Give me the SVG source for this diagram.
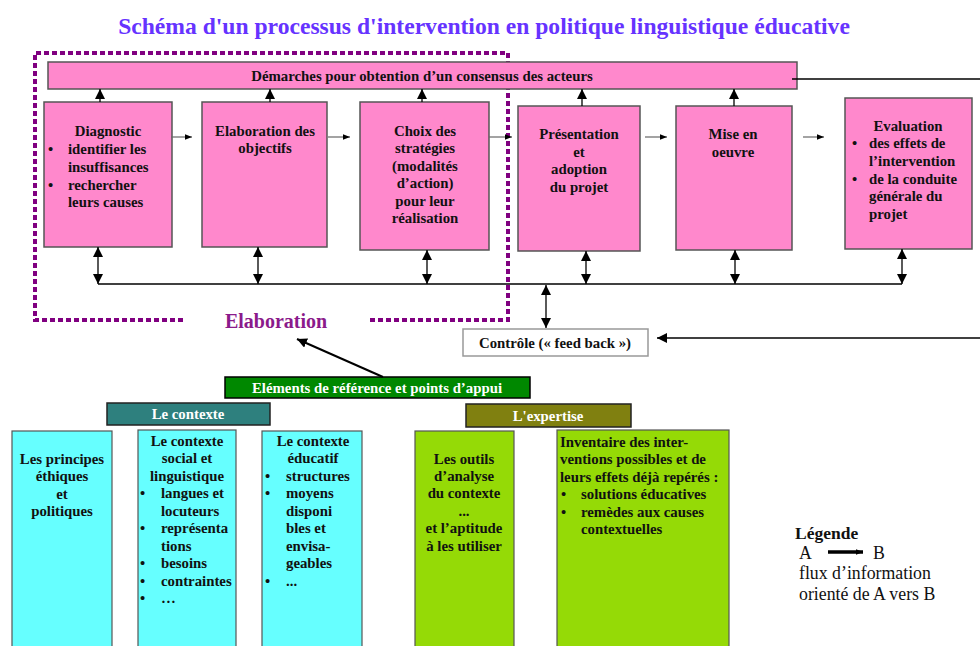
<svg xmlns="http://www.w3.org/2000/svg" width="980" height="646" viewBox="0 0 980 646" font-family="'Liberation Serif', 'DejaVu Serif', 'Times New Roman', serif">
<defs>
<style>
text{font-family:'Liberation Serif','DejaVu Serif','Times New Roman',serif;font-weight:bold;font-size:14.8px;fill:#111}
.c{text-anchor:middle}
.pink{fill:#ff88cc;stroke:#555;stroke-width:1.5}
.cyan{fill:#66ffff;stroke:#555;stroke-width:1.2}
.lime{fill:#95da06;stroke:#555;stroke-width:1.2}
.ln{stroke:#000;stroke-width:1.3;fill:none}
.thin{stroke:#666;stroke-width:1.2;fill:none}
.wt{fill:#fff}
.leg{font-weight:normal;font-size:17.8px}
</style>
<marker id="ah" viewBox="0 0 10 10" refX="10" refY="5" markerWidth="10" markerHeight="10" markerUnits="userSpaceOnUse" orient="auto-start-reverse"><path d="M0,0 L10,5 L0,10 Z" fill="#000"/></marker>
<marker id="sm" viewBox="0 0 10 10" refX="10" refY="5" markerWidth="7" markerHeight="7" markerUnits="userSpaceOnUse" orient="auto"><path d="M0,1 L10,5 L0,9 Z" fill="#000"/></marker>
</defs>
<rect width="980" height="646" fill="#fff"/>
<text x="484" y="34" class="c" style="font-size:23.6px;fill:#6633ff">Schéma d'un processus d'intervention en politique linguistique éducative</text>

<g id="elaboration-zone">
<path d="M183,320 H35 V53 H508 V320 H367" fill="none" stroke="#800080" stroke-width="4" stroke-dasharray="5 3"/>
<text x="276" y="328" class="c" style="font-size:20px;fill:#8b1a8b">Elaboration</text>
</g>

<g id="banner">
<rect x="48" y="62" width="749" height="27" class="pink"/>
<text x="422" y="81" class="c">Démarches pour obtention d’un consensus des acteurs</text>
</g>

<g id="diagnostic">
<rect x="44" y="102" width="128" height="145" class="pink"/>
<text x="108" y="136" class="c">Diagnostic</text>
<text x="48" y="154">•</text><text x="68" y="154">identifier les</text>
<text x="68" y="172">insuffisances</text>
<text x="48" y="190">•</text><text x="68" y="190">rechercher</text>
<text x="68" y="207">leurs causes</text>
</g>
<g id="objectifs">
<rect x="202" y="102" width="125" height="145" class="pink"/>
<text x="265" y="136" class="c">Elaboration des</text>
<text x="265" y="153" class="c">objectifs</text>
</g>
<g id="strategies">
<rect x="360" y="102" width="129" height="148" class="pink"/>
<text x="425" y="136" class="c">Choix des</text>
<text x="425" y="153" class="c">stratégies</text>
<text x="425" y="171" class="c">(modalités</text>
<text x="425" y="188" class="c">d’action)</text>
<text x="425" y="206" class="c">pour leur</text>
<text x="425" y="223" class="c">réalisation</text>
</g>
<g id="presentation">
<rect x="518" y="106" width="122" height="145" class="pink"/>
<text x="579" y="139" class="c">Présentation</text>
<text x="579" y="157" class="c">et</text>
<text x="579" y="174" class="c">adoption</text>
<text x="579" y="192" class="c">du projet</text>
</g>
<g id="mise-en-oeuvre">
<rect x="676" y="106" width="116" height="144" class="pink"/>
<text x="733" y="139" class="c">Mise en</text>
<text x="733" y="157" class="c">oeuvre</text>
</g>
<g id="evaluation">
<rect x="845" y="98" width="127" height="151" class="pink"/>
<text x="908" y="131" class="c">Evaluation</text>
<text x="852" y="148">•</text><text x="869" y="148">des effets de</text>
<text x="869" y="166">l’intervention</text>
<text x="852" y="184">•</text><text x="869" y="184">de la conduite</text>
<text x="869" y="201">générale du</text>
<text x="869" y="219">projet</text>
</g>

<g id="controle">
<rect x="463" y="329" width="185" height="27" fill="#fff" stroke="#999" stroke-width="1.5"/>
<text x="555" y="348" class="c">Contrôle (« feed back »)</text>
</g>

<g id="elements">
<rect x="225" y="377" width="305" height="21" fill="#008800" stroke="#000" stroke-width="1.5"/>
<text x="377" y="393" class="c wt">Eléments de référence et points d’appui</text>
</g>
<g id="le-contexte">
<rect x="107" y="403" width="163" height="22" fill="#2e807e" stroke="#222" stroke-width="1.5"/>
<text x="188" y="419" class="c wt">Le contexte</text>
</g>
<g id="expertise">
<rect x="466" y="404" width="165" height="23" fill="#808010" stroke="#222" stroke-width="1.5"/>
<text x="548" y="421" class="c wt">L'expertise</text>
</g>

<g id="principes">
<rect x="12" y="431" width="100" height="220" class="cyan"/>
<text x="62" y="464" class="c">Les principes</text>
<text x="62" y="481" class="c">éthiques</text>
<text x="62" y="499" class="c">et</text>
<text x="62" y="516" class="c">politiques</text>
</g>
<g id="contexte-social">
<rect x="138" y="430" width="98" height="221" class="cyan"/>
<text x="187" y="446" class="c">Le contexte</text>
<text x="187" y="463" class="c">social et</text>
<text x="187" y="481" class="c">linguistique</text>
<text x="140" y="498">•</text><text x="161" y="498">langues et</text>
<text x="161" y="516">locuteurs</text>
<text x="140" y="533">•</text><text x="161" y="533">représenta</text>
<text x="161" y="551">tions</text>
<text x="140" y="568">•</text><text x="161" y="568">besoins</text>
<text x="140" y="586">•</text><text x="161" y="586">contraintes</text>
<text x="140" y="603">•</text><text x="161" y="603">…</text>
</g>
<g id="contexte-educatif">
<rect x="262" y="431" width="100" height="220" class="cyan"/>
<text x="313" y="446" class="c">Le contexte</text>
<text x="313" y="463" class="c">éducatif</text>
<text x="265" y="481">•</text><text x="286" y="481">structures</text>
<text x="265" y="498">•</text><text x="286" y="498">moyens</text>
<text x="286" y="516">disponi</text>
<text x="286" y="533">bles et</text>
<text x="286" y="551">envisa-</text>
<text x="286" y="568">geables</text>
<text x="265" y="586">•</text><text x="286" y="586">...</text>
</g>
<g id="outils">
<rect x="415" y="431" width="99" height="220" class="lime"/>
<text x="464" y="464" class="c">Les outils</text>
<text x="464" y="481" class="c">d’analyse</text>
<text x="464" y="498" class="c">du contexte</text>
<text x="464" y="516" class="c">...</text>
<text x="464" y="533" class="c">et l’aptitude</text>
<text x="464" y="551" class="c">à les utiliser</text>
</g>
<g id="inventaire">
<rect x="557" y="430" width="172" height="221" class="lime"/>
<text x="560" y="447">Inventaire des inter-</text>
<text x="560" y="464">ventions possibles et de</text>
<text x="560" y="482">leurs effets déjà repérés :</text>
<text x="561" y="499">•</text><text x="581" y="499">solutions éducatives</text>
<text x="561" y="517">•</text><text x="581" y="517">remèdes aux causes</text>
<text x="581" y="534">contextuelles</text>
</g>

<g id="legende">
<text x="795" y="539" style="font-size:17.5px">Légende</text>
<text x="799" y="559" class="leg">A</text>
<line x1="828" y1="552" x2="863" y2="552" stroke="#000" stroke-width="3.5" marker-end="url(#sm)"/>
<text x="873" y="559" class="leg">B</text>
<text x="799" y="579" class="leg">flux d’information</text>
<text x="799" y="600" class="leg">orienté de A vers B</text>
</g>

<g id="connectors">
<line x1="100" y1="102" x2="100" y2="89" class="ln" marker-end="url(#ah)"/>
<line x1="270" y1="102" x2="270" y2="89" class="ln" marker-end="url(#ah)"/>
<line x1="422" y1="102" x2="422" y2="89" class="ln" marker-end="url(#ah)"/>
<line x1="582" y1="106" x2="582" y2="89" class="ln" marker-end="url(#ah)"/>
<line x1="734" y1="106" x2="734" y2="89" class="ln" marker-end="url(#ah)"/>
<line x1="792" y1="79" x2="980" y2="79" class="ln"/>

<line x1="171" y1="137" x2="192" y2="137" class="thin" marker-end="url(#sm)"/>
<line x1="328" y1="137" x2="350" y2="137" class="thin" marker-end="url(#sm)"/>
<line x1="489" y1="137" x2="512" y2="137" class="thin" marker-end="url(#sm)"/>
<line x1="645" y1="137" x2="667" y2="137" class="thin" marker-end="url(#sm)"/>
<line x1="803" y1="137" x2="824" y2="137" class="thin" marker-end="url(#sm)"/>

<line x1="98" y1="247" x2="98" y2="284" class="ln" marker-start="url(#ah)" marker-end="url(#ah)"/>
<line x1="258" y1="247" x2="258" y2="284" class="ln" marker-start="url(#ah)" marker-end="url(#ah)"/>
<line x1="427" y1="250" x2="427" y2="284" class="ln" marker-start="url(#ah)" marker-end="url(#ah)"/>
<line x1="586" y1="251" x2="586" y2="284" class="ln" marker-start="url(#ah)" marker-end="url(#ah)"/>
<line x1="735" y1="250" x2="735" y2="284" class="ln" marker-start="url(#ah)" marker-end="url(#ah)"/>
<line x1="902" y1="249" x2="902" y2="284" class="ln" marker-start="url(#ah)" marker-end="url(#ah)"/>
<line x1="98" y1="284" x2="902" y2="284" class="ln"/>
<line x1="546" y1="285" x2="546" y2="328" class="ln" marker-start="url(#ah)" marker-end="url(#ah)"/>
<line x1="980" y1="338" x2="657" y2="338" class="ln" marker-end="url(#ah)"/>
<line x1="383" y1="377" x2="297" y2="339" stroke="#000" stroke-width="2" marker-end="url(#ah)"/>
</g>
</svg>
